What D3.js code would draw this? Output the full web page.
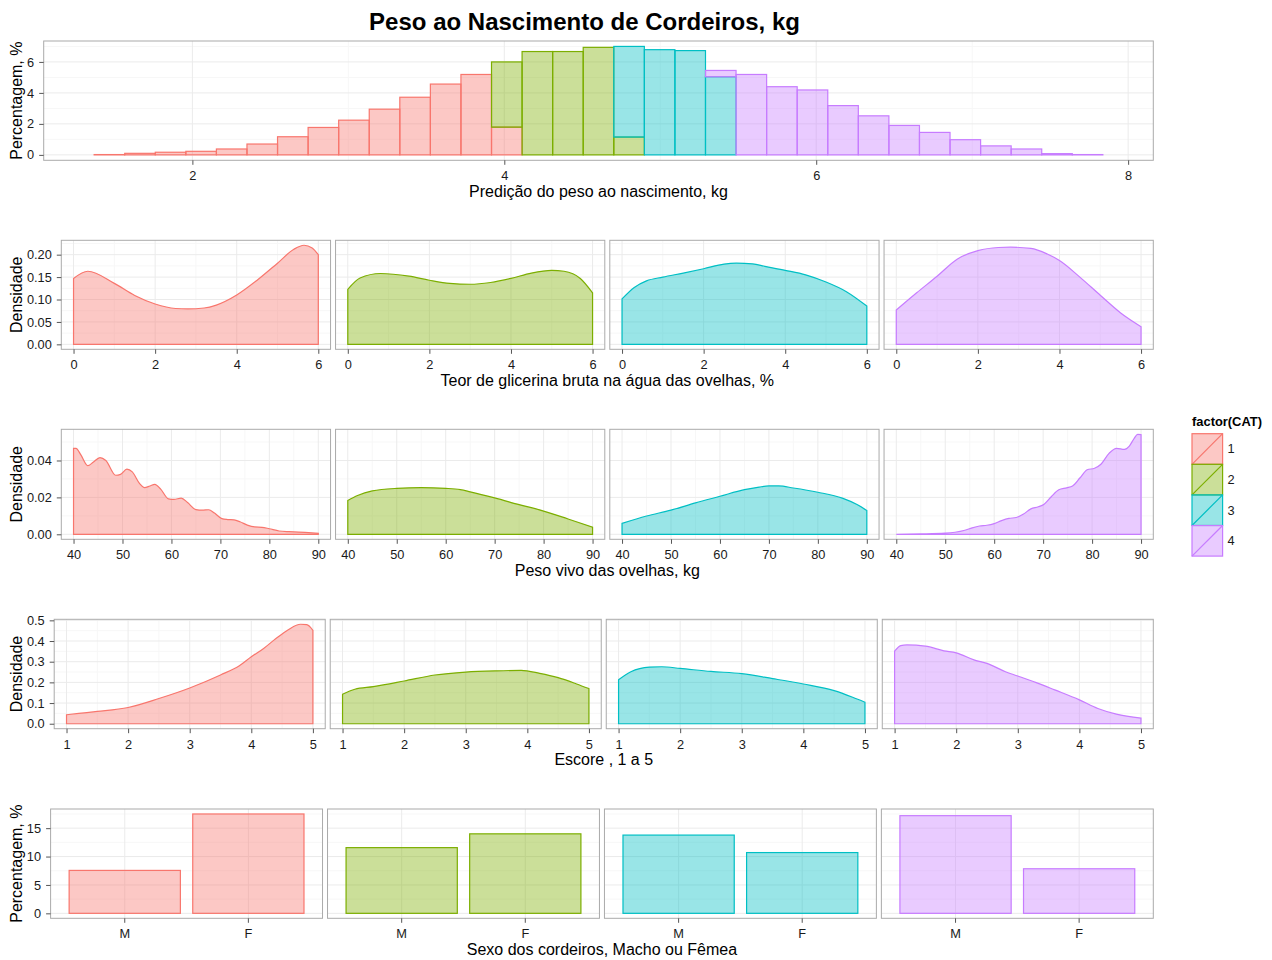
<!DOCTYPE html>
<html><head><meta charset="utf-8">
<script src="https://cdn.jsdelivr.net/npm/d3@7/dist/d3.min.js"></script>
<style>
body{margin:0;background:#fff}
svg{display:block}
text{font-family:"Liberation Sans",Arial,Helvetica,sans-serif}
</style>
</head><body>
<svg id="chart" width="1272" height="960"></svg>
<script>
// ---------------- DATA ----------------
const categories = ["1","2","3","4"];

// Histogram of predicted birth weight (kg), stacked percentages per CAT
const histBinMid = [1.468,1.664,1.860,2.056,2.252,2.448,2.644,2.840,3.036,3.232,3.428,3.624,3.820,4.016,4.212,4.408,4.604,4.800,4.996,5.192,5.388,5.584,5.780,5.976,6.172,6.368,6.564,6.760,6.956,7.152,7.348,7.544,7.740];
const histBinWidth = 0.196;
const histCat1 = [0.02,0.10,0.17,0.23,0.38,0.70,1.17,1.77,2.24,2.95,3.72,4.57,5.19,1.79,0,0,0,0,0,0,0,0,0,0,0,0,0,0,0,0,0,0,0];
const histCat2 = [0,0,0,0,0,0,0,0,0,0,0,0,0,4.21,6.67,6.67,6.94,1.15,0,0,0,0,0,0,0,0,0,0,0,0,0,0,0];
const histCat3 = [0,0,0,0,0,0,0,0,0,0,0,0,0,0,0,0,0,5.85,6.79,6.73,5.04,0,0,0,0,0,0,0,0,0,0,0,0];
const histCat4 = [0,0,0,0,0,0,0,0,0,0,0,0,0,0,0,0,0,0,0,0,0.41,5.19,4.40,4.19,3.18,2.52,1.90,1.45,0.98,0.58,0.38,0.08,0.02];
const histXTicks = [2,4,6,8];
const histYTicks = [0,2,4,6];

// Density: glycerin content in ewes' water (%)
const glicCat1 = [[0,0.147],[0.35,0.163],[1,0.136],[1.5,0.109],[2,0.090],[2.5,0.080],[2.8,0.079],[3.2,0.081],[3.5,0.0876],[4,0.110],[4.5,0.143],[5,0.181],[5.4,0.212],[5.65,0.221],[5.85,0.215],[6,0.200]];
const glicCat2 = [[0,0.1226],[0.3,0.148],[0.8,0.158],[1.5,0.152],[2,0.143],[2.5,0.136],[3,0.134],[3.5,0.138],[4,0.147],[4.5,0.159],[5,0.165],[5.3,0.163],[5.7,0.147],[6,0.115]];
const glicCat3 = [[0,0.1015],[0.3,0.127],[0.6,0.1416],[1,0.150],[1.5,0.159],[2,0.1686],[2.5,0.179],[2.8,0.181],[3.2,0.1796],[3.5,0.174],[4,0.165],[4.5,0.155],[5,0.139],[5.5,0.1175],[6,0.0854]];
const glicCat4 = [[0,0.0766],[0.5,0.115],[1,0.152],[1.5,0.1905],[2,0.209],[2.5,0.216],[2.8,0.2168],[3.3,0.214],[3.7,0.2015],[4,0.187],[4.5,0.150],[5,0.1095],[5.5,0.070],[6,0.0394]];
const glicXTicks = [0,2,4,6];
const glicYTicks = [0,0.05,0.10,0.15,0.20];

// Density: ewes' live weight (kg)
const pesoCat1 = [[40,0.0466],[40.5,0.0466],[41.5,0.0430],[42.9,0.0372],[44,0.0390],[45.4,0.0416],[46.6,0.0400],[48.6,0.0320],[49.6,0.0325],[50.9,0.0353],[52,0.0338],[53.5,0.0275],[54.5,0.0253],[55.6,0.0262],[56.6,0.0271],[57.8,0.0245],[59.4,0.0192],[60.5,0.0189],[62,0.0196],[63.3,0.0172],[65,0.0134],[66.3,0.0131],[67.6,0.0133],[68.8,0.0115],[70.3,0.0085],[71.5,0.0080],[72.8,0.0078],[74,0.0068],[75.5,0.0050],[77,0.0040],[78.5,0.0038],[80,0.0030],[82,0.0018],[84,0.0014],[86,0.0012],[88,0.0009],[90,0.0006]];
const pesoCat2 = [[40,0.0183],[42,0.021],[45,0.0235],[50,0.0249],[55,0.0253],[60,0.0249],[63,0.0242],[65,0.023],[70,0.0197],[75,0.0161],[80,0.0126],[85,0.0083],[90,0.0039]];
const pesoCat3 = [[40,0.0059],[45,0.0099],[50,0.0131],[55,0.017],[60,0.0206],[65,0.0242],[68,0.0256],[70,0.0262],[72,0.0262],[75,0.0251],[80,0.0228],[85,0.0196],[88,0.0161],[90,0.0129]];
const pesoCat4 = [[40,0.0],[45,0.0002],[50,0.0006],[52,0.0011],[54,0.0022],[55.5,0.0035],[57,0.0045],[58.5,0.0049],[60,0.0058],[61.5,0.0074],[63,0.0086],[64.5,0.0091],[66,0.0110],[67.5,0.0138],[69,0.0149],[70.2,0.0163],[71.7,0.0205],[73.2,0.0241],[74.8,0.0252],[76,0.0262],[77.5,0.0305],[79,0.0350],[80.5,0.0358],[81.8,0.0380],[83.5,0.0440],[85,0.0466],[86.6,0.0460],[87.6,0.0478],[88.6,0.0520],[89.3,0.0542],[90,0.0540]];
const pesoXTicks = [40,50,60,70,80,90];
const pesoYTicks = [0,0.02,0.04];

// Density: body condition score (1 to 5)
const escCat1 = [[1,0.0433],[1.2,0.05],[1.5,0.0593],[2,0.0785],[2.5,0.122],[3,0.173],[3.5,0.236],[3.8,0.279],[4,0.324],[4.2,0.364],[4.4,0.412],[4.6,0.455],[4.8,0.481],[4.9,0.479],[5,0.452]];
const escCat2 = [[1,0.1426],[1.2,0.1667],[1.5,0.1795],[2,0.2067],[2.5,0.2356],[3,0.25],[3.5,0.256],[3.9,0.258],[4.2,0.2436],[4.5,0.2228],[4.8,0.1923],[5,0.17]];
const escCat3 = [[1,0.213],[1.2,0.2516],[1.5,0.274],[1.7,0.2756],[2,0.2676],[2.5,0.253],[3,0.242],[3.5,0.218],[4,0.192],[4.5,0.16],[4.8,0.128],[5,0.104]];
const escCat4 = [[1,0.351],[1.1,0.378],[1.2,0.381],[1.5,0.375],[1.8,0.3526],[2,0.343],[2.3,0.3077],[2.5,0.2917],[2.8,0.2516],[3,0.2308],[3.3,0.1987],[3.6,0.1635],[4,0.1154],[4.3,0.0737],[4.6,0.0465],[5,0.0272]];
const escXTicks = [1,2,3,4,5];
const escYTicks = [0,0.1,0.2,0.3,0.4,0.5];

// Bars: lamb sex percentages per CAT
const sexoLevels = ["M","F"];
const sexoM = [7.56,11.57,13.78,17.20];
const sexoF = [17.50,14.00,10.70,7.85];
const sexoYTicks = [0,5,10,15];

// ---------------- DRAWING ----------------
const palette = ["#F8766D","#7CAE00","#00BFC4","#C77CFF"];
const FILL_OP = 0.4;
const svg = d3.select("#chart");
const RIGHT = 1153.3, GAP = 5;
const TICK_FS = 12.8, TITLE_FS = 16;

function panelXs(left, n) {
  const w = (RIGHT - left - GAP * (n - 1)) / n;
  return d3.range(n).map(i => [left + i * (w + GAP), left + i * (w + GAP) + w]);
}
function expand(lo, hi, m = 0.05) { const r = hi - lo; return [lo - r * m, hi + r * m]; }
function midpoints(t) { const out = []; for (let i = 0; i < t.length - 1; i++) out.push((t[i] + t[i + 1]) / 2); return out; }

function drawGrid(g, x, y, xMaj, xMin, yMaj, yMin, x0, x1, y0, y1) {
  g.append("rect").attr("x", x0).attr("y", y0).attr("width", x1 - x0).attr("height", y1 - y0).attr("fill", "#fff");
  const inX = v => x(v) >= x0 && x(v) <= x1;
  const inY = v => y(v) >= y0 && y(v) <= y1;
  g.selectAll(null).data(yMin.filter(inY)).join("line").attr("x1", x0).attr("x2", x1).attr("y1", d => y(d)).attr("y2", d => y(d)).attr("stroke", "#f7f7f7").attr("stroke-width", 1);
  g.selectAll(null).data(xMin.filter(inX)).join("line").attr("y1", y0).attr("y2", y1).attr("x1", d => x(d)).attr("x2", d => x(d)).attr("stroke", "#f7f7f7").attr("stroke-width", 1);
  g.selectAll(null).data(yMaj.filter(inY)).join("line").attr("x1", x0).attr("x2", x1).attr("y1", d => y(d)).attr("y2", d => y(d)).attr("stroke", "#ebebeb").attr("stroke-width", 1);
  g.selectAll(null).data(xMaj.filter(inX)).join("line").attr("y1", y0).attr("y2", y1).attr("x1", d => x(d)).attr("x2", d => x(d)).attr("stroke", "#ebebeb").attr("stroke-width", 1);
}
function drawBorder(g, x0, x1, y0, y1) {
  g.append("rect").attr("x", x0).attr("y", y0).attr("width", x1 - x0).attr("height", y1 - y0).attr("fill", "none").attr("stroke", "#aaaaaa").attr("stroke-width", 1);
}
function styleAxis(a) {
  a.select(".domain").remove();
  a.selectAll(".tick line").attr("stroke", "#555");
  a.selectAll(".tick text").attr("fill", "#1a1a1a").attr("font-size", TICK_FS).attr("font-family", null);
}
function drawXAxis(g, x, ticks, fmt, y1) {
  const ax = d3.axisBottom(x).tickValues(ticks).tickSize(4.5).tickPadding(6.5).tickFormat(fmt);
  styleAxis(g.append("g").attr("transform", `translate(0,${y1})`).call(ax));
}
function drawYAxis(g, y, ticks, fmt, x0) {
  const ax = d3.axisLeft(y).tickValues(ticks).tickSize(4.5).tickPadding(5).tickFormat(fmt);
  styleAxis(g.append("g").attr("transform", `translate(${x0},0)`).call(ax));
}
function xTitle(text, left, y1) {
  svg.append("text").attr("x", (left + RIGHT) / 2).attr("y", y1 + 36.5).attr("text-anchor", "middle").attr("font-size", TITLE_FS).attr("fill", "#000").text(text);
}
function yTitle(text, y0, y1) {
  svg.append("text").attr("transform", `translate(21.5,${(y0 + y1) / 2}) rotate(-90)`).attr("text-anchor", "middle").attr("font-size", TITLE_FS).attr("fill", "#000").text(text);
}

// Title
svg.append("text").attr("x", 584.5).attr("y", 30).attr("text-anchor", "middle").attr("font-size", 24).attr("font-weight", "bold").attr("fill", "#000").text("Peso ao Nascimento de Cordeiros, kg");

// ---- Row 1: stacked histogram ----
(function () {
  const left = 43.7, y0 = 41, y1 = 160.3;
  const series = [histCat1, histCat2, histCat3, histCat4];
  const lo = histBinMid[0] - histBinWidth / 2, hi = histBinMid[histBinMid.length - 1] + histBinWidth / 2;
  const x = d3.scaleLinear().domain(expand(lo, hi)).range([left, RIGHT]);
  const totals = histBinMid.map((_, i) => d3.sum(series, s => s[i]));
  const y = d3.scaleLinear().domain(expand(0, d3.max(totals))).range([y1, y0]);
  const g = svg.append("g");
  drawGrid(g, x, y, histXTicks, [1, 3, 5, 7], histYTicks, [1, 3, 5, 7], left, RIGHT, y0, y1);
  const cum = histBinMid.map(() => 0);
  series.forEach((s, k) => {
    const recs = histBinMid.map((m, i) => { const b = cum[i]; cum[i] += s[i]; return { m, b, t: cum[i] }; });
    g.selectAll(null).data(recs).join("rect")
      .attr("x", d => x(d.m - histBinWidth / 2)).attr("width", d => x(d.m + histBinWidth / 2) - x(d.m - histBinWidth / 2))
      .attr("y", d => y(d.t)).attr("height", d => y(d.b) - y(d.t))
      .attr("fill", palette[k]).attr("fill-opacity", FILL_OP)
      .attr("stroke", palette[k]).attr("stroke-width", 1.2);
  });
  drawBorder(g, left, RIGHT, y0, y1);
  drawXAxis(g, x, histXTicks, d3.format("d"), y1);
  drawYAxis(g, y, histYTicks, d3.format("d"), left);
  xTitle("Predição do peso ao nascimento, kg", left, y1);
  yTitle("Percentagem, %", y0, y1);
})();

// ---- Density rows ----
function densityRow(cfg) {
  const { left, y0, y1, data, xTicks, xMinor, yTicks, yMinor, xfmt, yfmt, title } = cfg;
  const xs = data.flat().map(d => d[0]);
  const ymax = d3.max(data.flat(), d => d[1]);
  const xdom = expand(d3.min(xs), d3.max(xs));
  const y = d3.scaleLinear().domain(expand(0, ymax)).range([y1, y0]);
  const pans = panelXs(left, 4);
  pans.forEach(([a, b], k) => {
    const x = d3.scaleLinear().domain(xdom).range([a, b]);
    const g = svg.append("g");
    drawGrid(g, x, y, xTicks, xMinor, yTicks, yMinor, a, b, y0, y1);
    const area = d3.area().x(d => x(d[0])).y0(y(0)).y1(d => y(d[1])).curve(d3.curveMonotoneX);
    g.append("path").attr("d", area(data[k])).attr("fill", palette[k]).attr("fill-opacity", FILL_OP).attr("stroke", palette[k]).attr("stroke-width", 1.2);
    drawBorder(g, a, b, y0, y1);
    drawXAxis(g, x, xTicks, xfmt, y1);
    if (k === 0) drawYAxis(g, y, yTicks, yfmt, a);
  });
  xTitle(title, left, y1);
  yTitle("Densidade", y0, y1);
}
densityRow({ left: 61.3, y0: 240.3, y1: 349.3, data: [glicCat1, glicCat2, glicCat3, glicCat4],
  xTicks: glicXTicks, xMinor: [1, 3, 5], yTicks: glicYTicks, yMinor: [0.025, 0.075, 0.125, 0.175, 0.225],
  xfmt: d3.format("d"), yfmt: d3.format(".2f"), title: "Teor de glicerina bruta na água das ovelhas, %" });
densityRow({ left: 61.3, y0: 429.3, y1: 539.3, data: [pesoCat1, pesoCat2, pesoCat3, pesoCat4],
  xTicks: pesoXTicks, xMinor: midpoints(pesoXTicks), yTicks: pesoYTicks, yMinor: [0.01, 0.03, 0.05],
  xfmt: d3.format("d"), yfmt: d3.format(".2f"), title: "Peso vivo das ovelhas, kg" });
densityRow({ left: 54.2, y0: 619.3, y1: 728.7, data: [escCat1, escCat2, escCat3, escCat4],
  xTicks: escXTicks, xMinor: midpoints(escXTicks), yTicks: escYTicks, yMinor: midpoints(escYTicks),
  xfmt: d3.format("d"), yfmt: d3.format(".1f"), title: "Escore , 1 a 5" });

// ---- Row 5: bars ----
(function () {
  const left = 50.6, y0 = 809, y1 = 918.3;
  const ymax = d3.max([...sexoM, ...sexoF]);
  const y = d3.scaleLinear().domain(expand(0, ymax)).range([y1, y0]);
  const pans = panelXs(left, 4);
  pans.forEach(([a, b], k) => {
    const x = d3.scaleBand().domain(sexoLevels).range([a, b]).paddingInner(0.1).paddingOuter(0.15).align(0.5);
    const centers = sexoLevels.map(l => x(l) + x.bandwidth() / 2);
    const g = svg.append("g");
    g.append("rect").attr("x", a).attr("y", y0).attr("width", b - a).attr("height", y1 - y0).attr("fill", "#fff");
    midpoints([...sexoYTicks, 20]).forEach(v => { if (y(v) >= y0) g.append("line").attr("x1", a).attr("x2", b).attr("y1", y(v)).attr("y2", y(v)).attr("stroke", "#f7f7f7"); });
    sexoYTicks.forEach(v => g.append("line").attr("x1", a).attr("x2", b).attr("y1", y(v)).attr("y2", y(v)).attr("stroke", "#ebebeb"));
    centers.forEach(c => g.append("line").attr("x1", c).attr("x2", c).attr("y1", y0).attr("y2", y1).attr("stroke", "#ebebeb"));
    const vals = [{ l: "M", v: sexoM[k] }, { l: "F", v: sexoF[k] }];
    g.selectAll(null).data(vals).join("rect")
      .attr("x", d => x(d.l)).attr("width", x.bandwidth())
      .attr("y", d => y(d.v)).attr("height", d => y(0) - y(d.v))
      .attr("fill", palette[k]).attr("fill-opacity", FILL_OP).attr("stroke", palette[k]).attr("stroke-width", 1.2);
    drawBorder(g, a, b, y0, y1);
    const ax = d3.axisBottom(x).tickSize(4.5).tickPadding(6.5);
    styleAxis(g.append("g").attr("transform", `translate(0,${y1})`).call(ax));
    if (k === 0) drawYAxis(g, y, sexoYTicks, d3.format("d"), a);
  });
  xTitle("Sexo dos cordeiros, Macho ou Fêmea", left, y1);
  yTitle("Percentagem, %", y0, y1);
})();

// ---- Legend ----
(function () {
  const lx = 1192, ly = 433.7, ks = 30.6;
  svg.append("text").attr("x", lx).attr("y", 426).attr("font-size", 12.9).attr("font-weight", "bold").attr("fill", "#000").text("factor(CAT)");
  categories.forEach((c, k) => {
    const yy = ly + k * ks;
    svg.append("rect").attr("x", lx).attr("y", yy).attr("width", ks).attr("height", ks).attr("fill", palette[k]).attr("fill-opacity", FILL_OP).attr("stroke", palette[k]).attr("stroke-width", 1.2);
    svg.append("line").attr("x1", lx).attr("y1", yy + ks).attr("x2", lx + ks).attr("y2", yy).attr("stroke", palette[k]).attr("stroke-width", 1.2);
    svg.append("text").attr("x", lx + ks + 5).attr("y", yy + ks / 2).attr("dy", "0.35em").attr("font-size", 12.8).attr("fill", "#1a1a1a").text(c);
  });
})();
</script>
</body></html>
